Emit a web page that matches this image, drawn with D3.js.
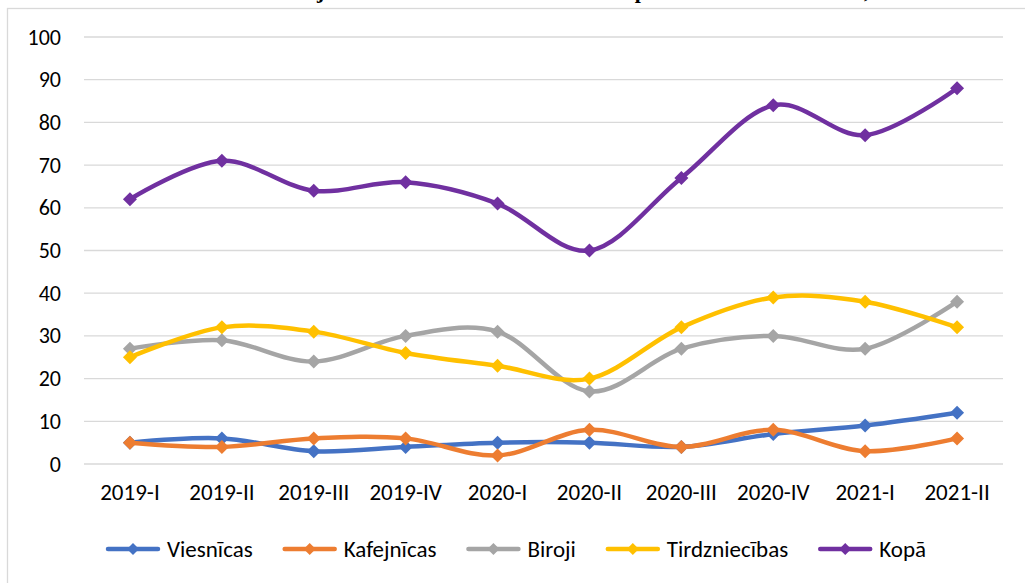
<!DOCTYPE html>
<html>
<head>
<meta charset="utf-8">
<script src="https://cdn.jsdelivr.net/npm/d3@7"></script>
<style>
  body { margin: 0; background: #fff; }
  text { font-family: Carlito, Calibri, Lato, sans-serif; fill: #000; }
</style>
</head>
<body>
<div id="chart"></div>
<script>
const quarters = [
  '2019-I', '2019-II', '2019-III', '2019-IV', '2020-I',
  '2020-II', '2020-III', '2020-IV', '2021-I', '2021-II',
];

const yTicks = [0, 10, 20, 30, 40, 50, 60, 70, 80, 90, 100];

const seriesNames = ['Viesnīcas', 'Kafejnīcas', 'Biroji', 'Tirdzniecības', 'Kopā'];

const viesnicas = [5, 6, 3, 4, 5, 5, 4, 7, 9, 12];
const kafejnicas = [5, 4, 6, 6, 2, 8, 4, 8, 3, 6];
const biroji = [27, 29, 24, 30, 31, 17, 27, 30, 27, 38];
const tirdzniecibas = [25, 32, 31, 26, 23, 20, 32, 39, 38, 32];
const kopa = [62, 71, 64, 66, 61, 50, 67, 84, 77, 88];

const colors = ['#4472c4', '#ed7d31', '#a5a5a5', '#ffc000', '#7030a0'];

const titleText = 'Brīvo objektu skaits atbilstoši nekustamā īpašuma veidam un laikā, 2019–2021';

function drawChart() {
  const width = 1025,
    height = 583,
    left = 84,
    right = 1003,
    top = 37,
    bottom = 464;

  const series = [viesnicas, kafejnicas, biroji, tirdzniecibas, kopa];

  const svg = d3
    .select('#chart')
    .append('svg')
    .attr('width', width)
    .attr('height', height);

  // chart area border (runs off the right and bottom edge)
  svg
    .append('rect')
    .attr('x', 7.5)
    .attr('y', 8.5)
    .attr('width', 1040)
    .attr('height', 600)
    .attr('fill', 'none')
    .attr('stroke', '#d9d9d9')
    .attr('stroke-width', 1.3);

  // title sits above the page, only its descenders show
  const title = svg
    .append('text')
    .attr('x', 0)
    .attr('y', -2)
    .style('font-family', '"Liberation Serif", serif')
    .style('font-weight', 'bold')
    .style('font-size', '22px')
    .text(titleText);
  const jPos = title.node().getStartPositionOfChar(titleText.indexOf('j')).x;
  title.attr('x', 317 - jPos);

  const xScale = d3.scaleBand().domain(quarters).range([left, right]);

  const yScale = d3.scaleLinear().domain([0, 100]).range([bottom, top]);

  // gridlines
  svg
    .append('g')
    .selectAll('line')
    .data(yTicks)
    .enter()
    .append('line')
    .attr('x1', left)
    .attr('x2', right)
    .attr('y1', (d) => yScale(d))
    .attr('y2', (d) => yScale(d))
    .attr('stroke', '#d9d9d9')
    .attr('stroke-width', 1.3);

  const yAxis = svg
    .append('g')
    .attr('transform', `translate(${left}, 0)`)
    .call(d3.axisLeft(yScale).tickValues(yTicks).tickSize(0).tickPadding(23));
  yAxis.select('.domain').remove();
  yAxis.selectAll('text').style('font-size', '22px').style('font-family', null);

  const xAxis = svg
    .append('g')
    .attr('transform', `translate(0, ${bottom})`)
    .call(d3.axisBottom(xScale).tickSize(0).tickPadding(20));
  xAxis.select('.domain').remove();
  xAxis.selectAll('text').style('font-size', '23px').style('font-family', null);

  const line = d3
    .line()
    .x((d, i) => xScale(quarters[i]) + xScale.bandwidth() / 2)
    .y((d) => yScale(d))
    .curve(d3.curveCatmullRom.alpha(0));

  const diamond = 'M0,-7L7,0L0,7L-7,0Z';

  series.forEach((values, s) => {
    const g = svg.append('g');
    g.append('path')
      .datum(values)
      .attr('d', line)
      .attr('fill', 'none')
      .attr('stroke', colors[s])
      .attr('stroke-width', 4.5)
      .attr('stroke-linecap', 'round');
    g.selectAll('path.marker')
      .data(values)
      .enter()
      .append('path')
      .attr('class', 'marker')
      .attr('d', diamond)
      .attr('fill', colors[s])
      .attr(
        'transform',
        (d, i) => `translate(${xScale(quarters[i]) + xScale.bandwidth() / 2}, ${yScale(d)})`
      );
  });

  // legend
  const legend = svg.append('g').attr('transform', 'translate(0, 549)');
  let x = 108;
  seriesNames.forEach((name, s) => {
    const item = legend.append('g').attr('transform', `translate(${x}, 0)`);
    item
      .append('line')
      .attr('x1', 0)
      .attr('x2', 50)
      .attr('stroke', colors[s])
      .attr('stroke-width', 4.5)
      .attr('stroke-linecap', 'round');
    item
      .append('path')
      .attr('d', 'M0,-6L6,0L0,6L-6,0Z')
      .attr('transform', 'translate(25, 0)')
      .attr('fill', colors[s]);
    const t = item
      .append('text')
      .attr('x', 59)
      .attr('dy', '0.35em')
      .style('font-size', '23px')
      .text(name);
    x += 59 + t.node().getComputedTextLength() + 32;
  });
}

drawChart();
</script>
</body>
</html>
